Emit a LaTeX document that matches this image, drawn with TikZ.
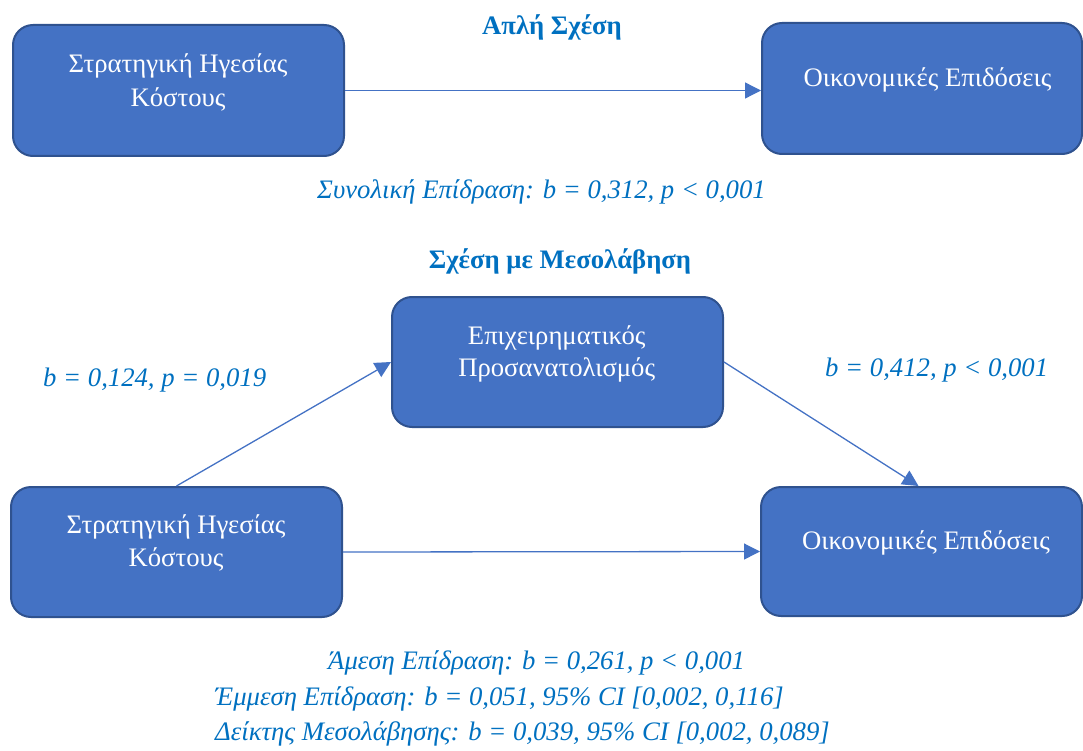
\documentclass[tikz,border=0pt]{standalone}
\usepackage{fontspec}
\setmainfont{Liberation Serif}
\usetikzlibrary{arrows.meta}
\definecolor{boxfill}{HTML}{4472C4}
\definecolor{boxline}{HTML}{2F528F}
\definecolor{lblue}{HTML}{0070C0}
\tikzset{
  box/.style={draw=boxline, line width=2pt, fill=boxfill, rounded corners=20pt, inner sep=0pt},
  boxtext/.style={text=white, font=\fontsize{26.7}{33}\selectfont, inner sep=0pt, anchor=base},
  lbl/.style={text=lblue, font=\fontsize{26.7}{33}\selectfont\itshape, inner sep=0pt},
  ttl/.style={text=lblue, font=\fontsize{26.7}{33}\selectfont\bfseries, inner sep=0pt, anchor=base},
  conn/.style={draw=boxfill, line width=1.3pt, -{Triangle[length=16pt,width=16pt]}}
}
\begin{document}
\begin{tikzpicture}[x=1pt,y=-1pt]
\useasboundingbox (0,0) rectangle (1083,751);
% top section
\node[ttl] (t1) at (552,35) {Απλή Σχέση};
\node[box, minimum width=331pt, minimum height=131pt] (b1) at (178.5,90.5) {};
\node[boxtext] (b1a) at (178,73) {Στρατηγική Ηγεσίας};
\node[boxtext] (b1b) at (178,107) {Κόστους};
\node[box, minimum width=320pt, minimum height=131pt] (b2) at (922,88.5) {};
\node[boxtext] (b2a) at (927.5,87) {Οικονομικές Επιδόσεις};
\draw[conn] (b1.east) -- (b1.east -| b2.west);
\node[lbl, anchor=base] (tot) at (541.5,199) {Συνολική Επίδραση: b = 0,312, p < 0,001};
% mediation section
\node[ttl] (t2) at (560,269) {Σχέση με Μεσολάβηση};
\node[box, minimum width=331pt, minimum height=130pt] (med) at (557.5,362) {};
\node[boxtext] (meda) at (556.7,344) {Επιχειρηματικός};
\node[boxtext] (medb) at (556.7,376) {Προσανατολισμός};
\node[box, minimum width=331pt, minimum height=130pt] (bl) at (176.5,552) {};
\node[boxtext] (bla) at (176,533) {Στρατηγική Ηγεσίας};
\node[boxtext] (blb) at (176,566) {Κόστους};
\node[box, minimum width=321pt, minimum height=129pt] (br) at (921.5,551.5) {};
\node[boxtext] (bra) at (926,549) {Οικονομικές Επιδόσεις};
\draw[conn] (bl.north) -- (med.west);
\draw[conn] (med.east) -- ([xshift=-3pt]br.north);
\draw[conn] (bl.east) -- (br.west);
\node[lbl, anchor=base west] (pa) at (43,386) {b = 0,124, p = 0,019};
\node[lbl, anchor=base west] (pb) at (825,376) {b = 0,412, p < 0,001};
\node[lbl, anchor=base west] (d1) at (328,669) {Άμεση Επίδραση: b = 0,261, p < 0,001};
\node[lbl, anchor=base west] (d2) at (215,705) {Έμμεση Επίδραση: b = 0,051, 95\% CI [0,002, 0,116]};
\node[lbl, anchor=base west] (d3) at (215,740) {Δείκτης Μεσολάβησης: b = 0,039, 95\% CI [0,002, 0,089]};
\end{tikzpicture}
\end{document}
